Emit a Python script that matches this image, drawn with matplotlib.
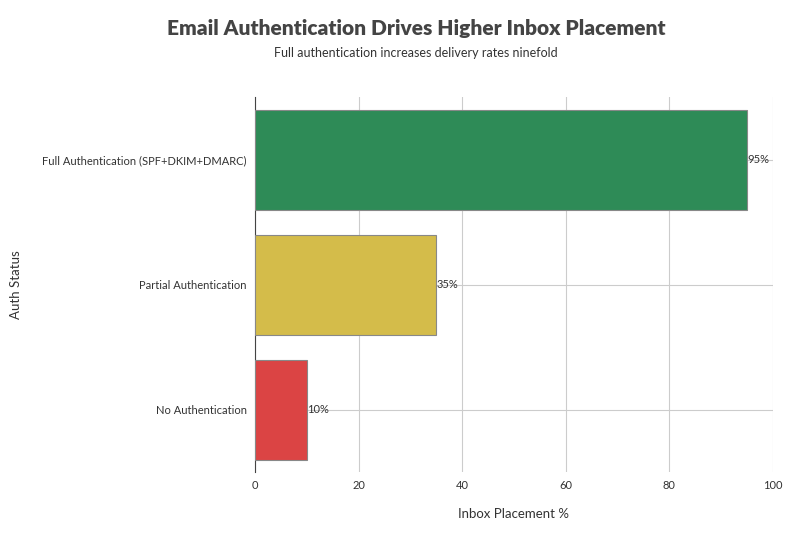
import matplotlib

matplotlib.use("Agg")
import matplotlib.pyplot as plt

categories = ["Full Authentication (SPF+DKIM+DMARC)", "Partial Authentication", "No Authentication"]
placement = [95, 35, 10]
colors = ["#2e8b57", "#d4bc4a", "#db4444"]
x_ticks = [0, 20, 40, 60, 80, 100]

plt.rcParams["font.family"] = ["Lato", "DejaVu Sans"]
fig = plt.figure(figsize=(8, 5.33), dpi=100)
ax = fig.add_axes([0.319, 0.1144, 0.647, 0.7036])

ypos = list(range(len(categories)))
ax.barh(ypos, placement, height=0.8, color=colors, edgecolor="#888888", linewidth=0.8, zorder=3)
for y, v in zip(ypos, placement):
    ax.text(v, y, f"{v}%", va="center", ha="left", fontsize=8, color="#333333", zorder=4)

ax.set_ylim(2.5, -0.5)
ax.set_xlim(0, 100)
ax.set_xticks(x_ticks)
ax.set_yticks(ypos)
ax.set_yticklabels(categories)
ax.tick_params(axis="both", length=0, labelsize=8, colors="#333333", pad=6)
ax.grid(True, color="#cccccc", linewidth=0.8, zorder=0)
for side in ["top", "right", "bottom"]:
    ax.spines[side].set_visible(False)
ax.spines["left"].set_color("#444444")
ax.spines["left"].set_linewidth(0.8)
ax.set_xlabel("Inbox Placement %", fontsize=9.5, color="#333333", labelpad=12)
ax.set_ylabel("Auth Status", fontsize=9.5, color="#333333", labelpad=14)
ax.yaxis.set_label_coords(-0.45, 0.5)

fig.text(0.52, 0.947, "Email Authentication Drives Higher Inbox Placement", ha="center", va="center",
         fontsize=15, fontweight="heavy", color="#444444")
fig.text(0.52, 0.9, "Full authentication increases delivery rates ninefold", ha="center", va="center",
         fontsize=9, color="#333333")

fig.savefig("out.png", dpi=100)
